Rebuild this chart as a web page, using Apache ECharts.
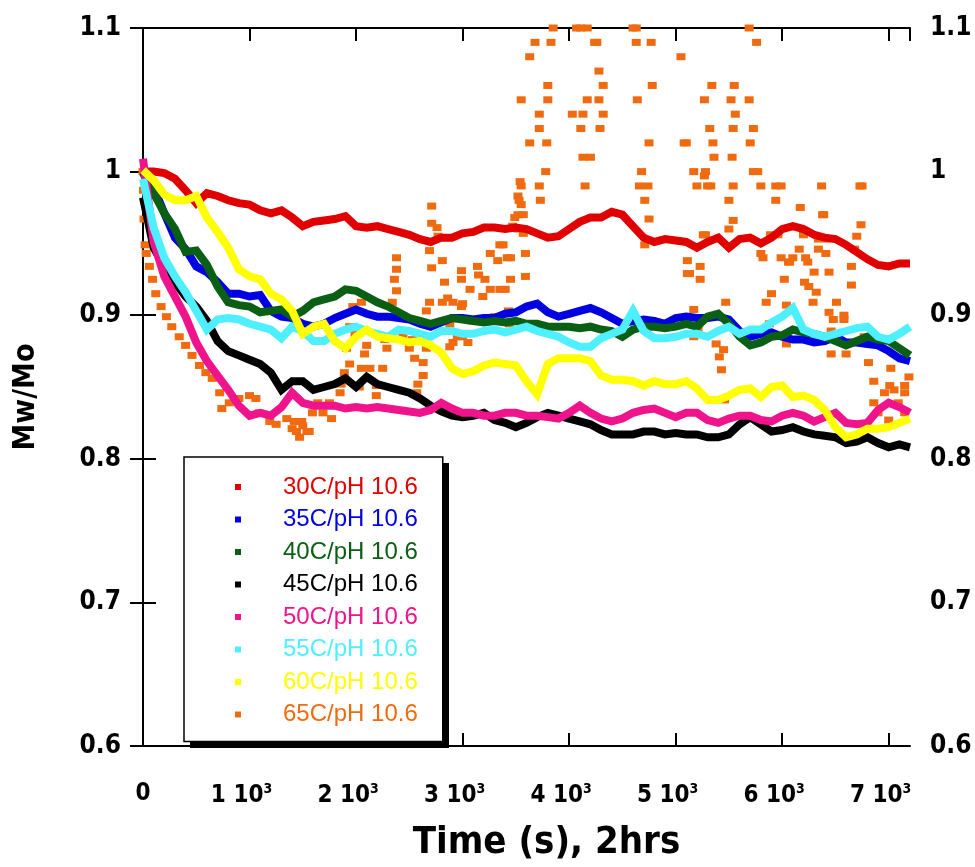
<!DOCTYPE html>
<html>
<head>
<meta charset="utf-8">
<script src="https://cdn.jsdelivr.net/npm/echarts@6/dist/echarts.min.js"></script>
<style>
  html, body { margin: 0; padding: 0; background: #fff; }
  #chart-container { width: 975px; height: 867px; }
</style>
</head>
<body>
<div id="chart-container"></div>
<script>
// time in seconds, one reading every 100 s
const times = [0, 100, 200, 300, 400, 500, 600, 700, 800, 900,
  1000, 1100, 1200, 1300, 1400, 1500, 1600, 1700, 1800, 1900,
  2000, 2100, 2200, 2300, 2400, 2500, 2600, 2700, 2800, 2900,
  3000, 3100, 3200, 3300, 3400, 3500, 3600, 3700, 3800, 3900,
  4000, 4100, 4200, 4300, 4400, 4500, 4600, 4700, 4800, 4900,
  5000, 5100, 5200, 5300, 5400, 5500, 5600, 5700, 5800, 5900,
  6000, 6100, 6200, 6300, 6400, 6500, 6600, 6700, 6800, 6900,
  7000, 7100, 7200];

const mw30 = [1.000, 1.000, 0.999, 0.995, 0.987, 0.978, 0.985, 0.983, 0.980, 0.978,
  0.977, 0.973, 0.971, 0.973, 0.968, 0.962, 0.965, 0.966, 0.967, 0.969,
  0.962, 0.961, 0.962, 0.960, 0.958, 0.956, 0.953, 0.951, 0.954, 0.954,
  0.957, 0.958, 0.961, 0.961, 0.960, 0.961, 0.960, 0.957, 0.954, 0.955,
  0.960, 0.965, 0.968, 0.968, 0.972, 0.970, 0.962, 0.954, 0.951, 0.953,
  0.952, 0.951, 0.947, 0.951, 0.954, 0.947, 0.953, 0.954, 0.950, 0.954,
  0.960, 0.962, 0.960, 0.956, 0.954, 0.953, 0.949, 0.944, 0.939, 0.935,
  0.934, 0.936, 0.936];

const mw35 = [1.000, 0.989, 0.971, 0.954, 0.946, 0.934, 0.930, 0.923, 0.915, 0.915,
  0.913, 0.914, 0.903, 0.899, 0.898, 0.894, 0.892, 0.894, 0.898, 0.901,
  0.904, 0.901, 0.899, 0.899, 0.898, 0.897, 0.894, 0.892, 0.895, 0.898,
  0.898, 0.897, 0.898, 0.898, 0.901, 0.902, 0.906, 0.908, 0.902, 0.899,
  0.901, 0.903, 0.905, 0.902, 0.898, 0.894, 0.896, 0.897, 0.896, 0.894,
  0.898, 0.899, 0.898, 0.898, 0.899, 0.897, 0.889, 0.885, 0.887, 0.888,
  0.885, 0.883, 0.883, 0.881, 0.882, 0.885, 0.881, 0.881, 0.880, 0.879,
  0.875, 0.870, 0.868];

const mw40 = [0.999, 0.985, 0.971, 0.960, 0.944, 0.945, 0.935, 0.920, 0.909, 0.907,
  0.906, 0.902, 0.903, 0.904, 0.899, 0.903, 0.909, 0.911, 0.913, 0.918,
  0.917, 0.913, 0.909, 0.906, 0.902, 0.898, 0.896, 0.894, 0.896, 0.898,
  0.897, 0.896, 0.895, 0.896, 0.895, 0.896, 0.894, 0.894, 0.892, 0.892,
  0.892, 0.891, 0.892, 0.890, 0.889, 0.885, 0.890, 0.892, 0.892, 0.891,
  0.892, 0.894, 0.892, 0.899, 0.901, 0.894, 0.885, 0.879, 0.881, 0.885,
  0.886, 0.890, 0.888, 0.887, 0.885, 0.882, 0.879, 0.882, 0.885, 0.883,
  0.882, 0.877, 0.872];

const mw45 = [0.982, 0.947, 0.934, 0.923, 0.913, 0.906, 0.896, 0.882, 0.875, 0.872,
  0.869, 0.866, 0.860, 0.848, 0.854, 0.854, 0.848, 0.850, 0.852, 0.856,
  0.850, 0.857, 0.852, 0.850, 0.848, 0.846, 0.842, 0.837, 0.833, 0.830,
  0.829, 0.830, 0.832, 0.827, 0.825, 0.822, 0.825, 0.829, 0.832, 0.830,
  0.828, 0.826, 0.824, 0.820, 0.817, 0.817, 0.817, 0.819, 0.819, 0.817,
  0.818, 0.817, 0.817, 0.815, 0.815, 0.817, 0.824, 0.829, 0.824, 0.819,
  0.820, 0.822, 0.819, 0.817, 0.816, 0.815, 0.811, 0.812, 0.815, 0.811,
  0.808, 0.810, 0.808];

const mw50 = [1.009, 0.951, 0.927, 0.913, 0.899, 0.881, 0.868, 0.858, 0.848, 0.837,
  0.830, 0.832, 0.830, 0.836, 0.846, 0.839, 0.837, 0.837, 0.837, 0.835,
  0.836, 0.835, 0.836, 0.835, 0.834, 0.833, 0.832, 0.834, 0.839, 0.835,
  0.832, 0.832, 0.830, 0.830, 0.832, 0.832, 0.830, 0.830, 0.829, 0.828,
  0.832, 0.837, 0.832, 0.828, 0.826, 0.828, 0.832, 0.834, 0.835, 0.832,
  0.829, 0.832, 0.832, 0.827, 0.825, 0.828, 0.830, 0.830, 0.827, 0.826,
  0.830, 0.832, 0.830, 0.826, 0.829, 0.832, 0.825, 0.824, 0.825, 0.834,
  0.839, 0.836, 0.832];

const mw55 = [0.995, 0.961, 0.940, 0.927, 0.916, 0.903, 0.890, 0.897, 0.898, 0.897,
  0.894, 0.892, 0.890, 0.884, 0.892, 0.889, 0.882, 0.882, 0.887, 0.890,
  0.892, 0.889, 0.887, 0.885, 0.890, 0.889, 0.887, 0.885, 0.889, 0.889,
  0.887, 0.887, 0.889, 0.890, 0.888, 0.890, 0.892, 0.889, 0.887, 0.885,
  0.881, 0.878, 0.878, 0.884, 0.887, 0.890, 0.903, 0.889, 0.884, 0.884,
  0.885, 0.887, 0.887, 0.885, 0.889, 0.892, 0.887, 0.890, 0.890, 0.895,
  0.899, 0.905, 0.890, 0.887, 0.885, 0.887, 0.889, 0.891, 0.892, 0.885,
  0.883, 0.887, 0.892];

const mw60 = [1.001, 0.994, 0.984, 0.980, 0.980, 0.983, 0.968, 0.958, 0.947, 0.932,
  0.927, 0.925, 0.915, 0.911, 0.903, 0.887, 0.892, 0.894, 0.882, 0.877,
  0.885, 0.890, 0.885, 0.884, 0.883, 0.881, 0.882, 0.879, 0.874, 0.863,
  0.859, 0.861, 0.865, 0.867, 0.866, 0.865, 0.854, 0.845, 0.866, 0.870,
  0.870, 0.870, 0.868, 0.858, 0.855, 0.855, 0.854, 0.851, 0.854, 0.852,
  0.852, 0.854, 0.849, 0.841, 0.841, 0.844, 0.848, 0.849, 0.843, 0.850,
  0.851, 0.843, 0.844, 0.841, 0.834, 0.822, 0.815, 0.817, 0.821, 0.821,
  0.822, 0.825, 0.828];

// 65C readings are scattered, kept as [time, Mw/Mo] pairs
const mw65 = [
  [0, 1.000], [5, 0.987], [10, 0.967], [20, 0.949], [30, 0.943], [60, 0.934], [90, 0.925],
  [120, 0.915], [170, 0.906], [220, 0.899], [270, 0.892], [340, 0.885], [400, 0.879],
  [460, 0.872], [530, 0.865], [590, 0.860], [650, 0.856], [720, 0.846], [740, 0.835],
  [810, 0.839], [900, 0.842], [1000, 0.844], [1060, 0.842], [1090, 0.832], [1190, 0.826],
  [1250, 0.824], [1350, 0.828], [1400, 0.821], [1420, 0.826], [1440, 0.819], [1470, 0.815],
  [1490, 0.826], [1500, 0.823], [1540, 0.819], [1560, 0.819],
  [1590, 0.832], [1640, 0.839], [1690, 0.832], [1750, 0.839], [1770, 0.828], [1850, 0.846],
  [1860, 0.852], [1890, 0.860], [1910, 0.877], [1940, 0.866], [1940, 0.892], [1970, 0.906],
  [1990, 0.887], [2030, 0.850], [2050, 0.909], [2050, 0.863], [2080, 0.873], [2100, 0.879],
  [2130, 0.863], [2190, 0.851], [2190, 0.844], [2250, 0.863], [2270, 0.883], [2290, 0.877],
  [2340, 0.909], [2360, 0.925], [2380, 0.940], [2380, 0.932], [2380, 0.917], [2440, 0.885],
  [2500, 0.877], [2530, 0.883], [2550, 0.870], [2570, 0.846], [2580, 0.852], [2630, 0.867],
  [2630, 0.858], [2650, 0.885], [2660, 0.903], [2660, 0.877], [2690, 0.909], [2690, 0.945],
  [2710, 0.976], [2710, 0.964], [2710, 0.933], [2760, 0.961], [2770, 0.955], [2810, 0.938],
  [2810, 0.909], [2830, 0.923], [2860, 0.912], [2880, 0.894], [2880, 0.878], [2910, 0.909],
  [2910, 0.881], [2950, 0.885], [2990, 0.925], [2990, 0.931], [2990, 0.906], [3000, 0.908],
  [3000, 0.885], [3050, 0.881], [3070, 0.918], [3090, 0.896], [3140, 0.934], [3150, 0.928],
  [3190, 0.913], [3190, 0.896], [3210, 0.925], [3260, 0.943], [3260, 0.918], [3300, 0.899],
  [3330, 0.938], [3350, 0.949], [3350, 0.918], [3380, 0.949], [3400, 0.918], [3420, 0.940],
  [3430, 0.903], [3440, 0.894], [3450, 0.925], [3450, 0.940], [3470, 0.962], [3490, 0.968],
  [3520, 0.960], [3520, 0.970], [3520, 0.983], [3530, 0.980], [3540, 0.993], [3550, 0.977],
  [3550, 0.990], [3550, 1.050], [3570, 0.957], [3570, 0.970], [3590, 0.943], [3590, 0.927],
  [3630, 1.020], [3630, 1.080], [3680, 1.090], [3720, 1.040], [3720, 1.030], [3720, 0.990],
  [3730, 0.980], [3780, 1.000], [3790, 1.020], [3800, 1.050], [3800, 1.060], [3830, 1.090],
  [3850, 1.100], [4030, 1.040], [4070, 1.100], [4110, 1.100], [4110, 1.030], [4130, 1.040],
  [4130, 1.010], [4150, 0.990], [4170, 1.100], [4170, 1.050], [4200, 1.010], [4240, 1.090],
  [4260, 1.090], [4280, 1.070], [4280, 1.050], [4290, 1.030], [4320, 1.060], [4320, 1.040],
  [4600, 1.100], [4630, 1.100], [4630, 1.090], [4640, 1.050], [4660, 0.990], [4680, 1.000],
  [4710, 0.980], [4710, 0.949], [4740, 0.990], [4750, 1.020], [4750, 0.967], [4770, 1.090],
  [4780, 1.060], [5050, 1.080], [5080, 1.020], [5100, 1.020], [5110, 0.938], [5110, 0.929],
  [5130, 0.929], [5170, 1.000], [5170, 0.904], [5170, 0.885], [5200, 0.990], [5210, 0.891],
  [5230, 0.934], [5230, 0.925], [5260, 0.956], [5270, 1.050], [5270, 0.997], [5280, 1.000],
  [5280, 0.956], [5300, 0.990], [5320, 1.030], [5330, 0.990], [5340, 1.060], [5350, 1.020],
  [5360, 1.010], [5380, 0.880], [5410, 0.871], [5430, 0.862], [5450, 0.876], [5460, 0.841],
  [5470, 0.909], [5500, 0.980], [5500, 0.960], [5520, 1.050], [5530, 1.010], [5540, 1.030],
  [5540, 0.990], [5540, 0.966], [5550, 1.060], [5560, 1.040], [5690, 1.100], [5690, 1.050],
  [5700, 1.020], [5730, 1.030], [5730, 1.000], [5760, 1.090], [5770, 1.000], [5800, 0.990],
  [5800, 0.943], [5820, 0.940], [5850, 0.909], [5880, 0.894], [5890, 0.956], [5900, 0.915],
  [5940, 0.990], [5940, 0.980], [5960, 0.956], [5990, 0.990], [5990, 0.940], [6020, 0.925],
  [6040, 0.907], [6040, 0.880], [6060, 0.937], [6070, 0.937], [6100, 0.940], [6160, 0.946],
  [6170, 0.975], [6200, 0.956], [6210, 0.923], [6220, 0.940], [6240, 0.937], [6250, 0.920],
  [6290, 0.909], [6300, 0.930], [6320, 0.916], [6340, 0.953], [6340, 0.946], [6370, 0.990],
  [6380, 0.970], [6390, 0.970], [6410, 0.943], [6420, 0.953], [6440, 0.930], [6440, 0.902],
  [6460, 0.889], [6460, 0.873], [6480, 0.897], [6510, 0.909], [6580, 0.900], [6580, 0.897],
  [6600, 0.873], [6620, 0.880], [6650, 0.921], [6650, 0.934], [6680, 0.946], [6700, 0.955],
  [6730, 0.990], [6750, 0.990], [6740, 0.963], [6770, 0.885], [6810, 0.867], [6860, 0.854],
  [6860, 0.839], [6900, 0.832], [6960, 0.846], [7000, 0.827], [7010, 0.851], [7020, 0.863],
  [7050, 0.848], [7090, 0.839], [7150, 0.851], [7150, 0.846], [7150, 0.832], [7190, 0.857]
];

const seriesNames = ['30C/pH 10.6', '35C/pH 10.6', '40C/pH 10.6', '45C/pH 10.6',
  '50C/pH 10.6', '55C/pH 10.6', '60C/pH 10.6', '65C/pH 10.6'];
const seriesColors = ['#e00000', '#0000e0', '#0a5f14', '#000000',
  '#f0148c', '#4ef0ff', '#ffff00', '#f06a10'];
const xTicks = [0, 1000, 2000, 3000, 4000, 5000, 6000, 7000];

const boldFont = 'Liberation Sans Narrow, DejaVu Sans Condensed, Liberation Sans, Arial, sans-serif';
const plainFont = 'Liberation Sans, Arial, sans-serif';

const lines = [mw30, mw35, mw40, mw45, mw50, mw55, mw60];

const series = lines.map(function (vals, i) {
  return {
    name: seriesNames[i],
    type: 'line',
    data: times.map(function (t, j) { return [t, vals[j]]; }),
    showSymbol: false,
    color: seriesColors[i],
    lineStyle: { width: 8, color: seriesColors[i], join: 'miter' },
    animation: false
  };
});
series.push({
  name: seriesNames[7],
  type: 'scatter',
  data: mw65,
  symbol: 'rect',
  symbolSize: [9, 7],
  itemStyle: { color: seriesColors[7], opacity: 1 },
  color: seriesColors[7],
  animation: false
});

const xLabel = function (v) {
  if (xTicks.indexOf(v) < 0) return '';
  if (v === 0) return '{n|0}';
  return '{n|' + (v / 1000) + ' 10}{s|3}';
};
const yLabel = function (v) {
  return String(parseFloat(v.toFixed(1)));
};

const axisLine = { show: true, lineStyle: { color: '#000', width: 2 } };
const axisTick = { show: true, inside: true, length: 13, lineStyle: { color: '#000', width: 2 } };

const option = {
  backgroundColor: '#fff',
  animation: false,
  grid: { left: 143, right: 65, top: 28, bottom: 112, containLabel: false },
  // hard drop shadow behind the legend box
  graphic: [{
    type: 'rect', z: 3, left: 190, top: 463,
    shape: { width: 259, height: 285 },
    style: { fill: '#000' }
  }],
  legend: {
    orient: 'vertical',
    left: 184,
    top: 457,
    z: 5,
    icon: 'rect',
    itemWidth: 6,
    itemHeight: 6,
    itemGap: 6.5,
    padding: [17, 25, 14, 51],
    backgroundColor: '#fff',
    borderColor: '#000',
    borderWidth: 1.5,
    borderRadius: 0,
    selectedMode: false,
    textStyle: { fontFamily: plainFont, fontSize: 24, lineHeight: 26, padding: [0, 0, 0, 37] },
    data: seriesNames.map(function (n, i) {
      return { name: n, textStyle: { color: seriesColors[i] } };
    })
  },
  xAxis: [
    {
      type: 'value', min: 0, max: 7200, interval: 1000,
      name: 'Time (s), 2hrs', nameLocation: 'middle', nameGap: 78,
      nameTextStyle: { fontFamily: boldFont, fontWeight: 'bold', fontSize: 38, color: '#000', padding: [0, 0, 0, 40] },
      axisLine: axisLine, axisTick: axisTick, splitLine: { show: false },
      axisLabel: {
        margin: 36, formatter: xLabel, showMaxLabel: false,
        rich: {
          n: { fontFamily: boldFont, fontWeight: 'bold', fontSize: 24, color: '#000' },
          s: { fontFamily: boldFont, fontWeight: 'bold', fontSize: 14, color: '#000', verticalAlign: 'top', padding: [0, 16, 14, 0] }
        }
      }
    },
    {
      type: 'value', min: 0, max: 7200, interval: 1000, position: 'top',
      axisLine: axisLine, axisTick: axisTick, axisLabel: { show: false }, splitLine: { show: false }
    }
  ],
  yAxis: [
    {
      type: 'value', min: 0.6, max: 1.1, interval: 0.1,
      name: 'Mw/Mo', nameLocation: 'middle', nameGap: 102, nameRotate: 90,
      nameTextStyle: { fontFamily: boldFont, fontWeight: 'bold', fontSize: 30, color: '#000', padding: [0, 20, 0, 0] },
      axisLine: axisLine, axisTick: axisTick, splitLine: { show: false },
      axisLabel: { margin: 22, formatter: yLabel, fontFamily: boldFont, fontWeight: 'bold', fontSize: 26, color: '#000' }
    },
    {
      type: 'value', min: 0.6, max: 1.1, interval: 0.1, position: 'right',
      axisLine: axisLine, axisTick: axisTick, splitLine: { show: false },
      axisLabel: { margin: 20, formatter: yLabel, fontFamily: boldFont, fontWeight: 'bold', fontSize: 26, color: '#000' }
    }
  ],
  series: series
};

const chart = echarts.init(document.getElementById('chart-container'));
chart.setOption(option);
</script>
</body>
</html>
